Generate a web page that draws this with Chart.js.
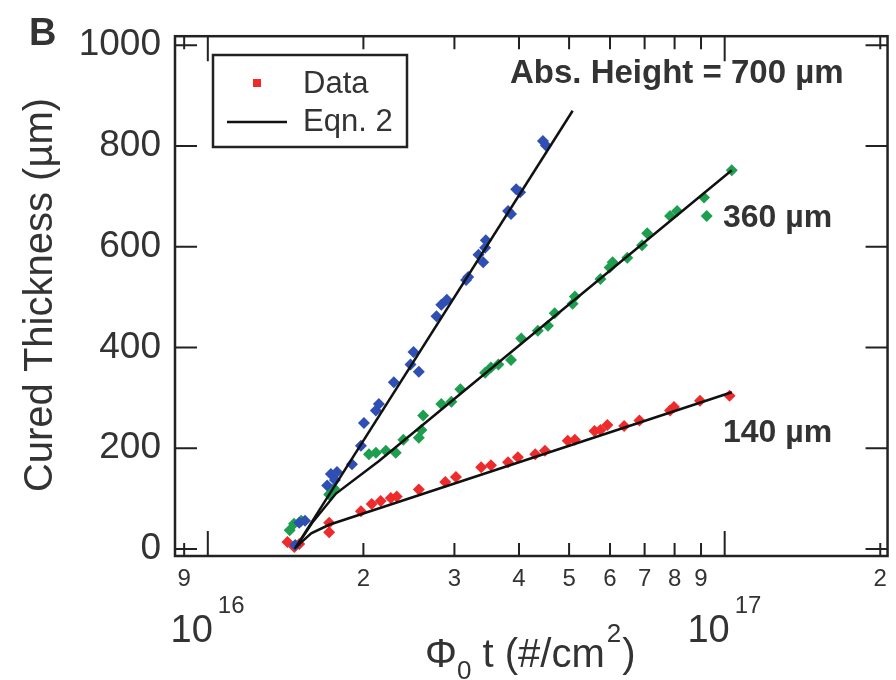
<!DOCTYPE html>
<html>
<head>
<meta charset="utf-8">
<script src="https://cdn.jsdelivr.net/npm/chart.js@4.4.0/dist/chart.umd.min.js"></script>
<style>
  html, body { margin: 0; padding: 0; background: #fff; }
  #wrap { width: 896px; height: 680px; }
</style>
</head>
<body>
<div id="wrap"><canvas id="chart" width="896" height="680"></canvas></div>
<script>
// axis ticks
const xTicks = [9e15, 1e16, 2e16, 3e16, 4e16, 5e16, 6e16, 7e16, 8e16, 9e16, 1e17, 2e17];
const xTickLabels = ['9', '', '2', '3', '4', '5', '6', '7', '8', '9', '', '2'];
const xDecades = [1e16, 1e17];
const xDecadeExps = ['16', '17'];
const yTicks = [0, 200, 400, 600, 800, 1000];

// measured cured thickness, abs. height 700 um (blue)
const blueX = [1.476e16, 1.503e16, 1.542e16, 1.702e16, 1.730e16, 1.762e16, 1.778e16, 1.901e16, 1.978e16, 2.005e16,
  2.114e16, 2.143e16, 2.29e16, 2.467e16, 2.50e16, 2.56e16, 2.77e16, 2.83e16, 2.90e16, 3.16e16, 3.19e16,
  3.34e16, 3.41e16, 3.44e16, 3.45e16, 3.81e16, 3.86e16, 3.95e16, 4.02e16, 4.45e16, 4.51e16];
const blueY = [8, 52, 56, 126, 149, 137, 153, 168, 205, 250,
  275, 288, 331, 366, 391, 352, 462, 485, 495, 534, 540,
  584, 569, 598, 613, 671, 665, 714, 708, 810, 801];

// abs. height 360 um (green)
const greenX = [1.44e16, 1.468e16, 1.516e16, 1.717e16, 1.755e16, 2.05e16, 2.115e16, 2.21e16, 2.31e16, 2.39e16,
  2.56e16, 2.59e16, 2.61e16, 2.83e16, 2.96e16, 3.08e16, 3.44e16, 3.53e16, 3.65e16, 3.86e16,
  4.04e16, 4.35e16, 4.55e16, 4.69e16, 5.08e16, 5.13e16, 5.75e16, 5.99e16, 6.07e16, 6.48e16,
  6.92e16, 7.08e16, 7.84e16, 8.09e16, 9.12e16, 9.23e16, 1.032e17];
const greenY = [37, 50, 56, 108, 120, 188, 191, 195, 191, 217,
  221, 236, 265, 288, 292, 317, 350, 360, 366, 375,
  418, 433, 443, 468, 487, 501, 536, 559, 569, 578,
  603, 627, 661, 671, 698, 661, 752];

// abs. height 140 um (red)
const redX = [1.426e16, 1.47e16, 1.503e16, 1.717e16, 1.717e16, 1.978e16, 2.075e16, 2.16e16, 2.26e16, 2.32e16,
  2.56e16, 2.88e16, 3.02e16, 3.38e16, 3.53e16, 3.81e16, 3.98e16, 4.30e16, 4.49e16, 4.97e16,
  5.13e16, 5.60e16, 5.75e16, 5.93e16, 6.39e16, 6.84e16, 7.84e16, 7.98e16, 8.96e16, 1.022e17];
const redY = [14, 4, 10, 52, 33, 75, 89, 95, 101, 104,
  118, 133, 143, 162, 166, 172, 182, 188, 195, 215,
  217, 234, 236, 246, 244, 255, 275, 282, 294, 304];

// Eqn. 2 curves
const blueFitX = [1.473e16, 5.08e16];
const blueFitY = [0, 870];
const greenFitX = [1.483e16, 1.592e16, 1.770e16, 2.141e16, 1.032e17];
const greenFitY = [4, 52, 110, 174, 752];
const redFitX = [1.483e16, 1.585e16, 1.717e16, 1.032e17];
const redFitY = [4, 31, 48, 311];

const BLUE = '#2f4fb5';
const GREEN = '#1e9e4f';
const RED = '#ee2a2a';
const INK = '#333';
const FONT = '"Liberation Sans", Arial, sans-serif';

function toPoints(xs, ys) {
  return xs.map((x, i) => ({ x: x, y: ys[i] }));
}

function dataSet(xs, ys, color) {
  return {
    data: toPoints(xs, ys),
    backgroundColor: color,
    borderColor: color,
    pointStyle: 'rectRot',
    pointRadius: 6,
    borderWidth: 0,
    showLine: false,
    order: 1
  };
}

function fitSet(xs, ys) {
  return {
    data: toPoints(xs, ys),
    borderColor: '#111',
    borderWidth: 2.5,
    pointRadius: 0,
    showLine: true,
    fill: false,
    tension: 0,
    order: 0
  };
}

// frame, inward ticks, labels and legend box
const decorations = {
  id: 'decorations',
  afterDatasetsDraw(chart) {
    const ctx = chart.ctx;
    const a = chart.chartArea;
    const xs = chart.scales.x;
    const ys = chart.scales.y;
    ctx.save();
    ctx.strokeStyle = '#222';
    ctx.lineWidth = 2;
    ctx.beginPath();
    xTicks.forEach(v => {
      const px = xs.getPixelForValue(v);
      const len = xDecades.includes(v) ? 25 : 13;
      ctx.moveTo(px, a.bottom); ctx.lineTo(px, a.bottom - len);
      ctx.moveTo(px, a.top); ctx.lineTo(px, a.top + len);
    });
    yTicks.forEach(v => {
      const py = ys.getPixelForValue(v);
      ctx.moveTo(a.left, py); ctx.lineTo(a.left + 22, py);
      ctx.moveTo(a.right, py); ctx.lineTo(a.right - 22, py);
    });
    ctx.stroke();
    ctx.lineWidth = 2.5;
    ctx.strokeRect(a.left, a.top, a.right - a.left, a.bottom - a.top);
    ctx.restore();
  },
  afterDraw(chart) {
    const ctx = chart.ctx;
    const xs = chart.scales.x;
    ctx.save();
    ctx.fillStyle = INK;
    ctx.textBaseline = 'alphabetic';

    // decade labels 10^16, 10^17
    xDecades.forEach((v, i) => {
      const px = xs.getPixelForValue(v);
      ctx.font = '38px ' + FONT;
      ctx.textAlign = 'right';
      ctx.fillText('10', px + 5, 642);
      ctx.font = '24px ' + FONT;
      ctx.textAlign = 'left';
      ctx.fillText(xDecadeExps[i], px + 10, 613);
    });

    // x title: Phi_0 t (#/cm^2)
    let x = 425;
    ctx.textAlign = 'left';
    ctx.font = '40px ' + FONT;
    ctx.fillText('\u03A6', x, 667);
    x += ctx.measureText('\u03A6').width;
    ctx.font = '26px ' + FONT;
    ctx.fillText('0', x, 679);
    x += ctx.measureText('0').width;
    ctx.font = '40px ' + FONT;
    ctx.fillText(' t (#/cm', x, 667);
    x += ctx.measureText(' t (#/cm').width;
    ctx.font = '26px ' + FONT;
    ctx.fillText('2', x + 2, 642);
    x += ctx.measureText('2').width + 3;
    ctx.font = '40px ' + FONT;
    ctx.fillText(')', x, 667);

    // y title
    ctx.save();
    ctx.translate(52, 295);
    ctx.rotate(-Math.PI / 2);
    ctx.textAlign = 'center';
    ctx.font = '40px ' + FONT;
    ctx.fillText('Cured Thickness (\u00B5m)', 0, 0);
    ctx.restore();

    // panel letter
    ctx.textAlign = 'left';
    ctx.font = 'bold 38px ' + FONT;
    ctx.fillText('B', 29, 45);

    // curve annotations
    ctx.font = 'bold 33px ' + FONT;
    ctx.fillText('Abs. Height = 700 \u00B5m', 510, 83);
    ctx.font = 'bold 32px ' + FONT;
    ctx.fillText('360 \u00B5m', 723, 227);
    ctx.fillText('140 \u00B5m', 723, 442);

    // legend
    ctx.strokeStyle = '#222';
    ctx.lineWidth = 2.5;
    ctx.strokeRect(213, 55, 194, 92);
    ctx.fillStyle = RED;
    ctx.fillRect(253, 79, 8, 8);
    ctx.strokeStyle = '#111';
    ctx.beginPath();
    ctx.moveTo(227, 122); ctx.lineTo(287, 122);
    ctx.stroke();
    ctx.fillStyle = INK;
    ctx.font = '31px ' + FONT;
    ctx.textBaseline = 'middle';
    ctx.fillText('Data', 303, 84);
    ctx.fillText('Eqn. 2', 303, 122);
    ctx.restore();
  }
};

const ctx = document.getElementById('chart').getContext('2d');
new Chart(ctx, {
  type: 'scatter',
  data: {
    datasets: [
      fitSet(blueFitX, blueFitY),
      fitSet(greenFitX, greenFitY),
      fitSet(redFitX, redFitY),
      dataSet(blueX, blueY, BLUE),
      dataSet(greenX, greenY, GREEN),
      dataSet(redX, redY, RED)
    ]
  },
  options: {
    responsive: false,
    animation: false,
    devicePixelRatio: 1,
    layout: { padding: { left: 0, top: 23, right: 4, bottom: 0 } },
    plugins: {
      legend: { display: false },
      tooltip: { enabled: false }
    },
    scales: {
      x: {
        type: 'logarithmic',
        min: 8.64e15,
        max: 2.066e17,
        grid: { display: false, drawTicks: false },
        border: { display: false },
        afterBuildTicks: axis => { axis.ticks = xTicks.map(v => ({ value: v })); },
        afterFit: axis => { axis.height = 124; },
        ticks: {
          autoSkip: false,
          maxRotation: 0,
          padding: 9,
          color: INK,
          font: { family: FONT, size: 24 },
          callback: (value, index) => xTickLabels[index]
        }
      },
      y: {
        min: -14,
        max: 1018,
        grid: { display: false, drawTicks: false },
        border: { display: false },
        afterBuildTicks: axis => { axis.ticks = yTicks.map(v => ({ value: v })); },
        afterFit: axis => { axis.width = 175; },
        ticks: {
          padding: 14,
          color: INK,
          font: { family: FONT, size: 37 },
          callback: value => String(value)
        }
      }
    }
  },
  plugins: [decorations]
});
</script>
</body>
</html>
